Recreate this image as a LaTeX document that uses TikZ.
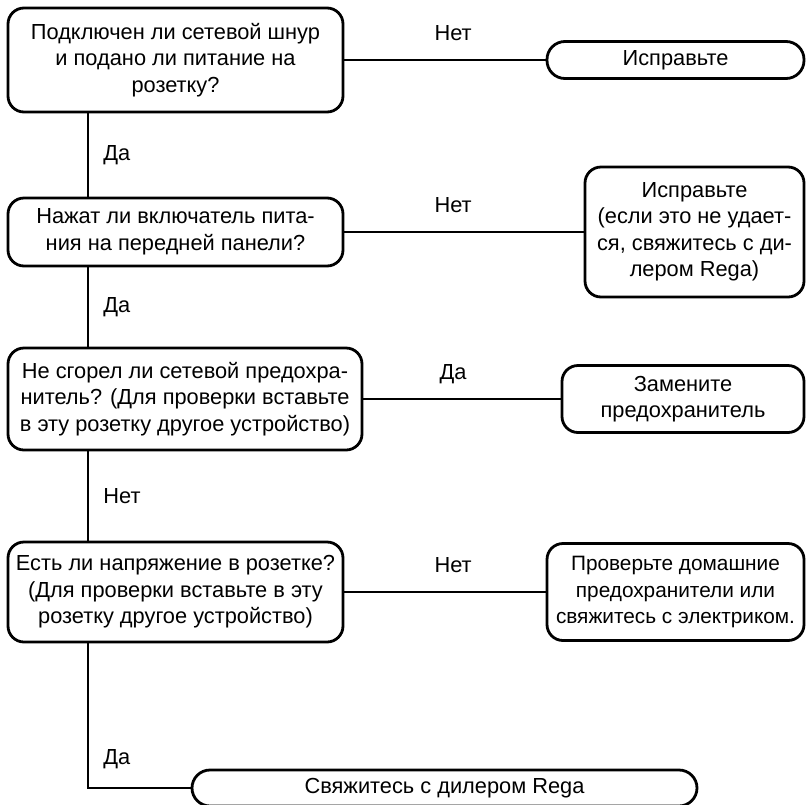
\documentclass[tikz,border=0pt]{standalone}
\usepackage{fontspec}
\setmainfont{Liberation Sans}
\usetikzlibrary{positioning}

\begin{document}
\begin{tikzpicture}[
    x=1pt, y=-1pt,
    box/.style={draw, line width=2.8pt, rounded corners=16pt, align=center,
      inner sep=0pt, outer sep=0pt, font=\fontsize{21.8}{26.5}\selectfont},
    pill/.style={box, rounded corners=18pt, minimum height=37pt},
    link/.style={line width=2.8pt},
    side/.style={font=\fontsize{21.8}{26.5}\selectfont, inner sep=0pt, right=14pt},
    over/.style={font=\fontsize{21.8}{26.5}\selectfont, inner sep=0pt, above=19.5pt, anchor=base}
  ]
  \useasboundingbox (0,0) rectangle (806,804);

  % questions, left column
  \node[box, minimum width=335pt, minimum height=104pt] (q1) at (175.5,60)
    {Подключен ли сетевой шнур\\и подано ли питание на\\розетку?};
  \node[box, minimum width=335pt, minimum height=68pt, below=86pt of q1] (q2)
    {Нажат ли включатель пита-\\ния на передней панели?};
  \node[box, minimum width=354pt, minimum height=102pt, below=82pt of q2.south west, anchor=north west] (q3)
    {Не сгорел ли сетевой предохра-\\нитель? (Для проверки вставьте\\в эту розетку другое устройство)};
  \node[box, minimum width=335pt, minimum height=100pt, below=92pt of q3.south west, anchor=north west] (q4)
    {Есть ли напряжение в розетке?\\(Для проверки вставьте в эту\\розетку другое устройство)};

  % answers, right column
  \node[pill, minimum width=257pt, right=204pt of q1] (fix) {Исправьте};
  \node[box, minimum width=219pt, minimum height=130pt, right=242pt of q2] (fixdealer)
    {Исправьте\\(если это не удает-\\ся, свяжитесь с ди-\\лером Rega)};
  \node[box, minimum width=242pt, minimum height=67pt, right=200pt of q3] (fuse)
    {Замените\\предохранитель};
  \node[box, minimum width=257pt, minimum height=97pt, right=204pt of q4,
    font=\fontsize{20.8}{26.5}\selectfont] (mains)
    {Проверьте домашние\\предохранители или\\свяжитесь с электриком.};

  \coordinate (corner) at (88,788);
  \node[pill, minimum width=505pt, minimum height=36pt, right=104pt of corner] (dealer)
    {Свяжитесь с дилером Rega};

  % no
  \draw[link] (q1) -- node[over, pos=0.54] {Нет} (fix);
  \draw[link] (q2) -- node[over, pos=0.455] {Нет} (fixdealer);
  \draw[link] (q3) -- node[over, pos=0.455] {Да} (fuse);
  \draw[link] (q4) -- node[over, pos=0.54] {Нет} (mains);

  % down the spine
  \draw[link] (q1.south -| corner) -- node[side] {Да} (q2.north -| corner);
  \draw[link] (q2.south -| corner) -- node[side] {Да} (q3.north -| corner);
  \draw[link] (q3.south -| corner) -- node[side] {Нет} (q4.north -| corner);
  \draw[link] (q4.south -| corner) -- node[side, pos=0.8] {Да} (corner) -- (dealer.west);
\end{tikzpicture}
\end{document}
